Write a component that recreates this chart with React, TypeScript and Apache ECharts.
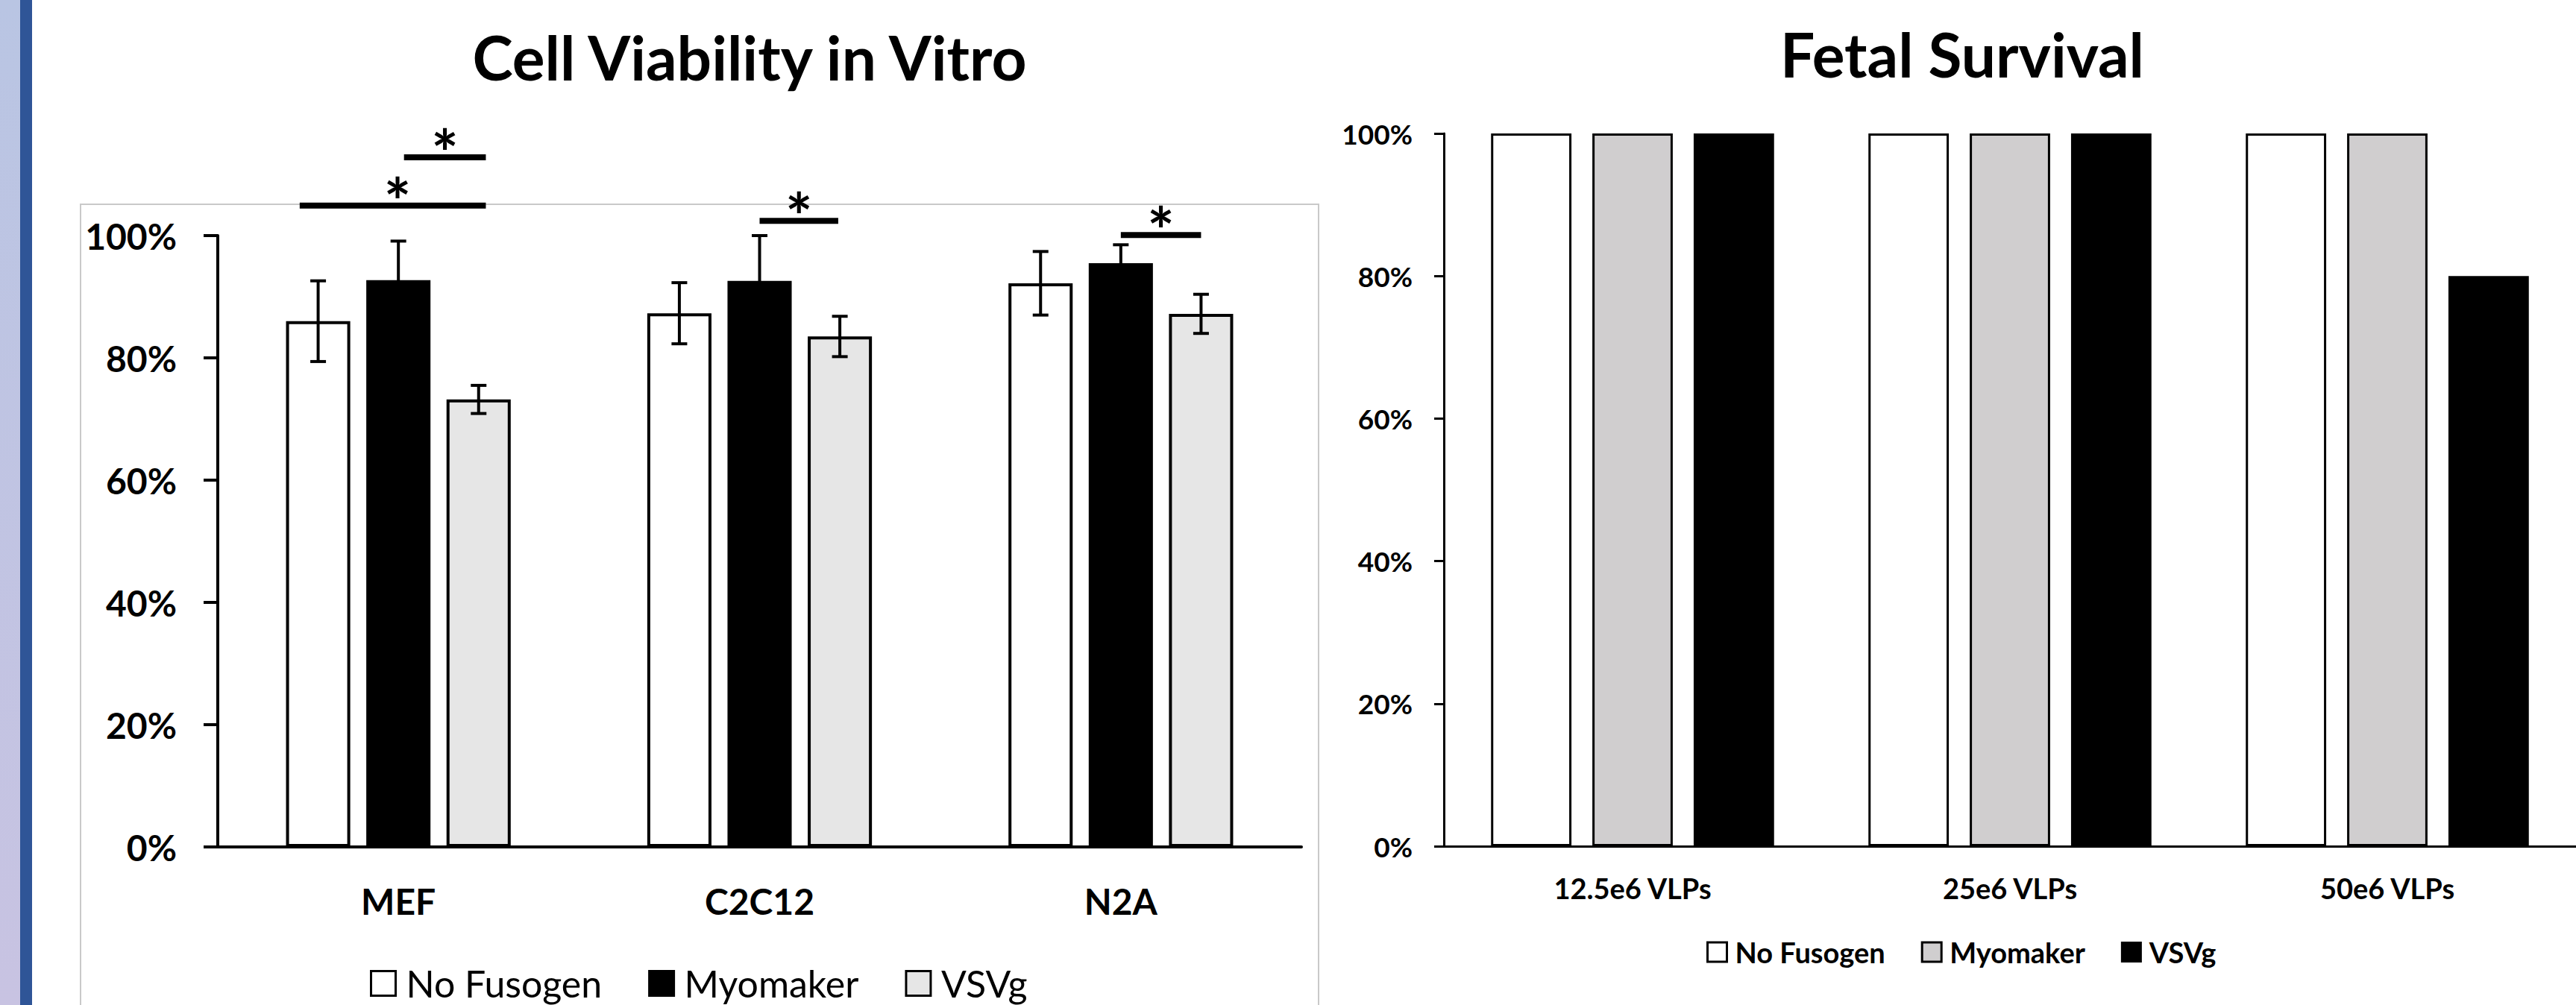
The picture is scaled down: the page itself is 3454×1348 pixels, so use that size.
import React, { useEffect, useRef } from "react";
import * as echarts from "echarts";

const FONT = "Lato, 'Open Sans', sans-serif";

// ---- Left chart: Cell Viability in Vitro ----
const cellLines = ["MEF", "C2C12", "N2A"];
const viabilityNoFusogen = [86.0, 87.3, 92.2];
const viabilityMyomaker = [92.7, 92.6, 95.5];
const viabilityVSVg = [73.2, 83.5, 87.2];
const errNoFusogen = [6.6, 5.0, 5.2];
const errMyomaker = [6.4, 7.4, 3.0];
const errVSVg = [2.3, 3.3, 3.2];
// significance brackets: [category, from bar slot, to bar slot, height (%), star slot]
const sigBrackets = [
  [0, -0.23, 2.09, 104.9, 0.99],
  [0, 1.07, 2.09, 112.8, 1.58],
  [1, 1.0, 1.98, 102.4, 1.49],
  [2, 1.0, 2.0, 100.1, 1.5],
];

// ---- Right chart: Fetal Survival ----
const doses = ["12.5e6 VLPs", "25e6 VLPs", "50e6 VLPs"];
const survivalNoFusogen = [100, 100, 100];
const survivalMyomaker = [100, 100, 100];
const survivalVSVg = [100, 100, 80];

// ---- Axis ticks ----
const yMin = 0;
const yMax = 100;
const yStep = 20;

const LEFT_CAT_GAP = 0.378;
const LEFT_BAR_GAP = 0.25;
const STAR_SIZE = 86;

function slotX(api: any, cat: number, slot: number) {
  const cx = api.coord([cat, 0])[0];
  const band = api.size([1, 0])[0];
  const w = (band * (1 - LEFT_CAT_GAP)) / (3 + 2 * LEFT_BAR_GAP);
  const step = w * (1 + LEFT_BAR_GAP);
  return cx + (slot - 1) * step;
}

export default function App() {
  const ref = useRef<HTMLDivElement>(null);

  useEffect(() => {
    if (!ref.current) return;
    const chart = echarts.init(ref.current, undefined, { renderer: "svg" });

    const errorData: number[][] = [];
    cellLines.forEach((_, i) => {
      errorData.push([i, 0, viabilityNoFusogen[i], errNoFusogen[i]]);
      errorData.push([i, 1, viabilityMyomaker[i], errMyomaker[i]]);
      errorData.push([i, 2, viabilityVSVg[i], errVSVg[i]]);
    });

    const labelBase = { fontFamily: FONT, fontWeight: "bold" as const, color: "#000" };

    const option: any = {
      animation: false,
      backgroundColor: "#ffffff",
      graphic: [
        {
          type: "rect",
          silent: true,
          shape: { x: 0, y: 0, width: 27, height: 1348 },
          style: {
            fill: new echarts.graphic.LinearGradient(0, 0, 0, 1, [
              { offset: 0, color: "#b9c5e3" },
              { offset: 1, color: "#c8c3e2" },
            ]),
          },
        },
        {
          type: "rect",
          silent: true,
          shape: { x: 27, y: 0, width: 16, height: 1348 },
          style: { fill: "#2f5597" },
        },
        {
          type: "rect",
          silent: true,
          shape: { x: 108, y: 274, width: 1660, height: 1200 },
          style: { fill: "none", stroke: "#c9c9c9", lineWidth: 2 },
        },
        {
          type: "text",
          x: 1005,
          y: 76,
          style: {
            text: "Cell Viability in Vitro",
            fontFamily: FONT,
            fontWeight: "bold",
            fontSize: 82,
            fill: "#000",
            align: "center",
            verticalAlign: "middle",
          },
        },
        {
          type: "text",
          x: 2631,
          y: 72,
          style: {
            text: "Fetal Survival",
            fontFamily: FONT,
            fontWeight: "bold",
            fontSize: 82,
            fill: "#000",
            align: "center",
            verticalAlign: "middle",
          },
        },
      ],
      legend: [
        {
          left: 496,
          top: 1294,
          padding: 0,
          orient: "horizontal",
          icon: "rect",
          itemWidth: 33,
          itemHeight: 33,
          itemGap: 62,
          selectedMode: false,
          textStyle: {
            fontFamily: FONT,
            fontSize: 50,
            color: "#000",
            lineHeight: 42,
            padding: [0, 0, 0, 9],
          },
          data: [
            { name: "No Fusogen", itemStyle: { color: "#ffffff", borderColor: "#000", borderWidth: 3 } },
            { name: "Myomaker", itemStyle: { color: "#000000", borderColor: "#000", borderWidth: 3 } },
            { name: "VSVg", itemStyle: { color: "#e6e6e6", borderColor: "#000", borderWidth: 3 } },
          ],
        },
        {
          left: 2288,
          top: 1255,
          padding: 0,
          orient: "horizontal",
          icon: "rect",
          itemWidth: 26,
          itemHeight: 26,
          itemGap: 48,
          selectedMode: false,
          textStyle: {
            fontFamily: FONT,
            fontWeight: "bold",
            fontSize: 38,
            color: "#000",
            lineHeight: 44,
            padding: [0, 0, 0, 6],
          },
          data: [
            { name: "No Fusogen", itemStyle: { color: "#ffffff", borderColor: "#000", borderWidth: 3 } },
            { name: "Myomaker", itemStyle: { color: "#d0cecf", borderColor: "#000", borderWidth: 3 } },
            { name: "VSVg", itemStyle: { color: "#000000", borderColor: "#000", borderWidth: 2 } },
          ],
        },
      ],
      grid: [
        { left: 292, top: 316, width: 1453, height: 820, outerBoundsMode: "none" },
        { left: 1936, top: 179, width: 1518, height: 956, outerBoundsMode: "none" },
      ],
      xAxis: [
        {
          gridIndex: 0,
          type: "category",
          data: cellLines,
          axisLine: { show: true, lineStyle: { color: "#000", width: 4 } },
          axisTick: { show: false },
          axisLabel: { ...labelBase, fontSize: 48, margin: 72, verticalAlign: "middle" },
          splitLine: { show: false },
        },
        {
          gridIndex: 1,
          type: "category",
          data: doses,
          axisLine: { show: true, lineStyle: { color: "#000", width: 3 } },
          axisTick: { show: false },
          axisLabel: { ...labelBase, fontSize: 38, margin: 56, verticalAlign: "middle" },
          splitLine: { show: false },
        },
      ],
      yAxis: [
        {
          gridIndex: 0,
          type: "value",
          min: yMin,
          max: yMax,
          interval: yStep,
          axisLine: { show: true, lineStyle: { color: "#000", width: 4 } },
          axisTick: { show: true, length: 19, lineStyle: { color: "#000", width: 4 } },
          splitLine: { show: false },
          axisLabel: { ...labelBase, fontSize: 48, margin: 55, formatter: "{value}%" },
        },
        {
          gridIndex: 1,
          type: "value",
          min: yMin,
          max: yMax,
          interval: yStep,
          axisLine: { show: true, lineStyle: { color: "#000", width: 3 } },
          axisTick: { show: true, length: 13, lineStyle: { color: "#000", width: 3 } },
          splitLine: { show: false },
          axisLabel: { ...labelBase, fontSize: 37, margin: 42, formatter: "{value}%" },
        },
      ],
      series: [
        {
          name: "No Fusogen",
          type: "bar",
          xAxisIndex: 0,
          yAxisIndex: 0,
          data: viabilityNoFusogen,
          barCategoryGap: "37.8%",
          barGap: "25%",
          itemStyle: { color: "#ffffff", borderColor: "#000", borderWidth: 4 },
        },
        {
          name: "Myomaker",
          type: "bar",
          xAxisIndex: 0,
          yAxisIndex: 0,
          data: viabilityMyomaker,
          barCategoryGap: "37.8%",
          barGap: "25%",
          itemStyle: { color: "#000000", borderColor: "#000", borderWidth: 4 },
        },
        {
          name: "VSVg",
          type: "bar",
          xAxisIndex: 0,
          yAxisIndex: 0,
          data: viabilityVSVg,
          barCategoryGap: "37.8%",
          barGap: "25%",
          itemStyle: { color: "#e6e6e6", borderColor: "#000", borderWidth: 4 },
        },
        {
          name: "errors",
          type: "custom",
          xAxisIndex: 0,
          yAxisIndex: 0,
          clip: false,
          z: 5,
          silent: true,
          encode: { x: 0, y: 2 },
          data: errorData,
          renderItem: (_params: any, api: any) => {
            const cat = api.value(0);
            const slot = api.value(1);
            const mean = api.value(2);
            const err = api.value(3);
            const x = slotX(api, cat, slot);
            const yHi = api.coord([cat, mean + err])[1];
            const yLo = api.coord([cat, mean - err])[1];
            const cap = 10.5;
            const style = { stroke: "#000", lineWidth: 4 };
            return {
              type: "group",
              children: [
                { type: "line", shape: { x1: x, y1: yHi, x2: x, y2: yLo }, style },
                { type: "line", shape: { x1: x - cap, y1: yHi, x2: x + cap, y2: yHi }, style },
                { type: "line", shape: { x1: x - cap, y1: yLo, x2: x + cap, y2: yLo }, style },
              ],
            };
          },
        },
        {
          name: "significance",
          type: "custom",
          xAxisIndex: 0,
          yAxisIndex: 0,
          clip: false,
          z: 6,
          silent: true,
          encode: { x: 0, y: 3 },
          data: sigBrackets,
          renderItem: (_params: any, api: any) => {
            const cat = api.value(0);
            const x1 = slotX(api, cat, api.value(1));
            const x2 = slotX(api, cat, api.value(2));
            const y = api.coord([cat, api.value(3)])[1];
            const xs = slotX(api, cat, api.value(4));
            return {
              type: "group",
              children: [
                {
                  type: "rect",
                  shape: { x: x1, y: y - 4, width: x2 - x1, height: 8 },
                  style: { fill: "#000" },
                },
                {
                  type: "text",
                  x: xs,
                  y: y - 31 + 0.27 * STAR_SIZE,
                  style: {
                    text: "*",
                    fontFamily: FONT,
                    fontWeight: "bold",
                    fontSize: STAR_SIZE,
                    fill: "#000",
                    align: "center",
                    verticalAlign: "middle",
                  },
                },
              ],
            };
          },
        },
        {
          name: "No Fusogen",
          type: "bar",
          xAxisIndex: 1,
          yAxisIndex: 1,
          data: survivalNoFusogen,
          barCategoryGap: "25%",
          barGap: "26%",
          itemStyle: { color: "#ffffff", borderColor: "#000", borderWidth: 3 },
        },
        {
          name: "Myomaker",
          type: "bar",
          xAxisIndex: 1,
          yAxisIndex: 1,
          data: survivalMyomaker,
          barCategoryGap: "25%",
          barGap: "26%",
          itemStyle: { color: "#d0cecf", borderColor: "#000", borderWidth: 3 },
        },
        {
          name: "VSVg",
          type: "bar",
          xAxisIndex: 1,
          yAxisIndex: 1,
          data: survivalVSVg,
          barCategoryGap: "25%",
          barGap: "26%",
          itemStyle: { color: "#000000", borderColor: "#000", borderWidth: 0 },
        },
      ],
    };

    chart.setOption(option);
    return () => chart.dispose();
  }, []);

  return (
    <div
      ref={ref}
      style={{ position: "fixed", left: 0, top: 0, width: 3454, height: 1348, background: "#fff" }}
    />
  );
}
